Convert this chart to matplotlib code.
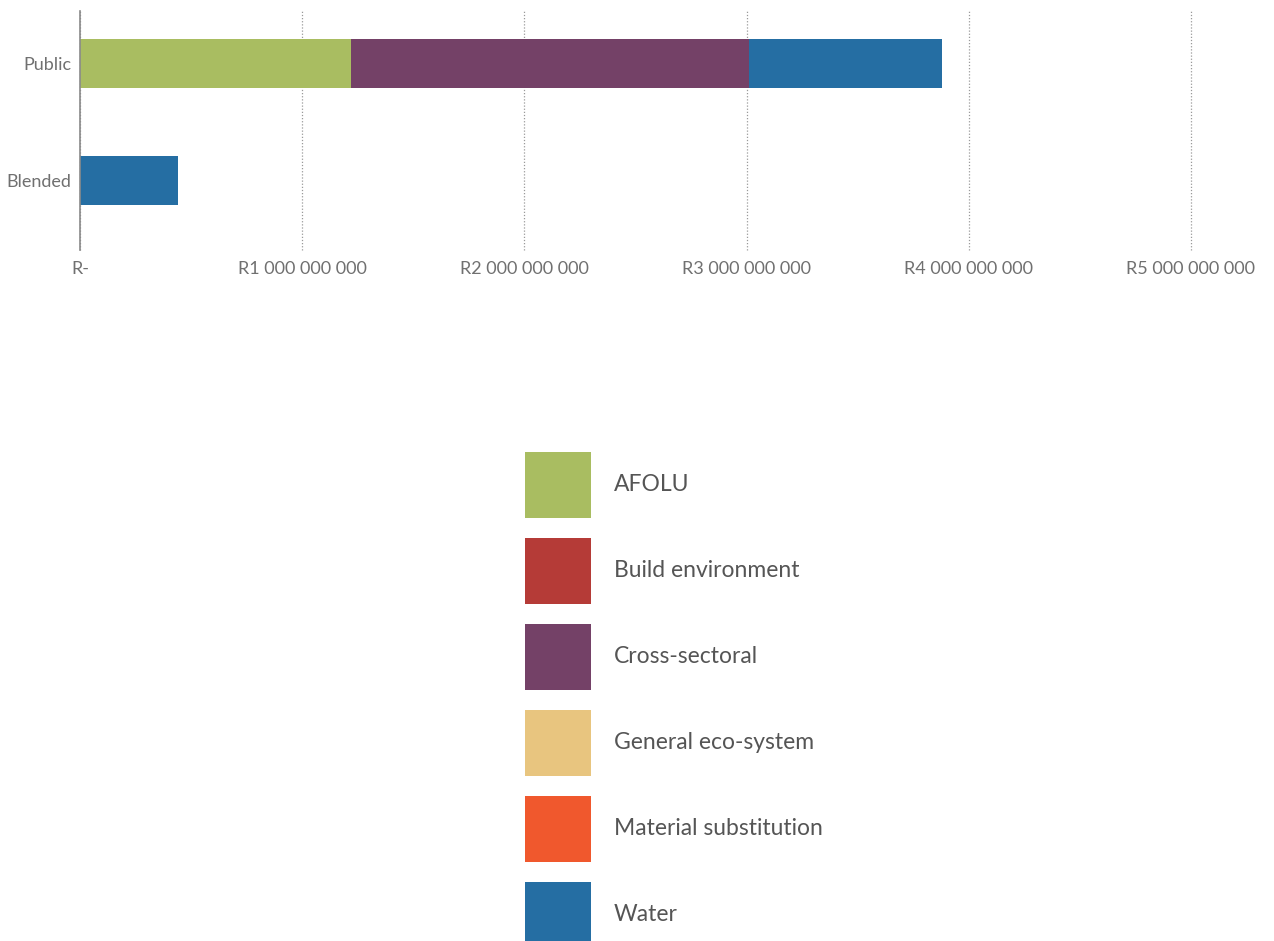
import matplotlib
matplotlib.use("Agg")
import matplotlib.pyplot as plt
from matplotlib.patches import Patch

plt.rcParams['font.family'] = ['Lato', 'DejaVu Sans']

# values per funding type, stacked by sector
categories = ["Blended", "Public"]
sectors = ["AFOLU", "Build environment", "Cross-sectoral",
           "General eco-system", "Material substitution", "Water"]
colors = ["#a9bd61", "#b53b37", "#744167", "#e8c57f", "#f0582d", "#256ea3"]
blended = [0, 0, 0, 0, 0, 0.44e9]
public = [1.22e9, 0, 1.79e9, 0, 0, 0.87e9]
xticks = [0, 1e9, 2e9, 3e9, 4e9, 5e9]
xtick_labels = ["R-", "R1 000 000 000", "R2 000 000 000", "R3 000 000 000",
                "R4 000 000 000", "R5 000 000 000"]

fig = plt.figure(figsize=(12.74, 9.41), dpi=100)
ax = fig.add_axes([0.0628, 0.7343, 0.872, 0.254])

left = [0, 0]
for i, name in enumerate(sectors):
    vals = [blended[i], public[i]]
    ax.barh(categories, vals, left=left, height=0.42, color=colors[i], label=name)
    left = [left[0] + vals[0], left[1] + vals[1]]

ax.set_xlim(0, 5e9)
ax.set_ylim(-0.594, 1.449)
ax.set_xticks(xticks)
ax.set_xticklabels(xtick_labels)
ax.tick_params(axis='both', length=0, labelsize=13, colors='#707070')
ax.tick_params(axis='x', pad=8)
ax.tick_params(axis='y', pad=6)

ax.grid(axis='x', color='#9a9a9a', linestyle=(0, (1, 1.5)), linewidth=0.9)
for gl in ax.get_xgridlines():
    gl.set_clip_on(False)
ax.set_axisbelow(True)
for s in ['top', 'right', 'bottom']:
    ax.spines[s].set_visible(False)
ax.spines['left'].set_color('#8a8a8a')
ax.spines['left'].set_linewidth(1.2)

handles = [Patch(facecolor=c, edgecolor='none') for c in colors]
fig.legend(handles, sectors, loc='upper left', bbox_to_anchor=(525 / 1274, 1 - 452 / 941),
           frameon=False, fontsize=16.5, handlelength=2.88, handleheight=4.06,
           labelspacing=0.87, handletextpad=1.0, borderpad=0, borderaxespad=0,
           labelcolor='#555555')

plt.savefig("out.png", dpi=100)
